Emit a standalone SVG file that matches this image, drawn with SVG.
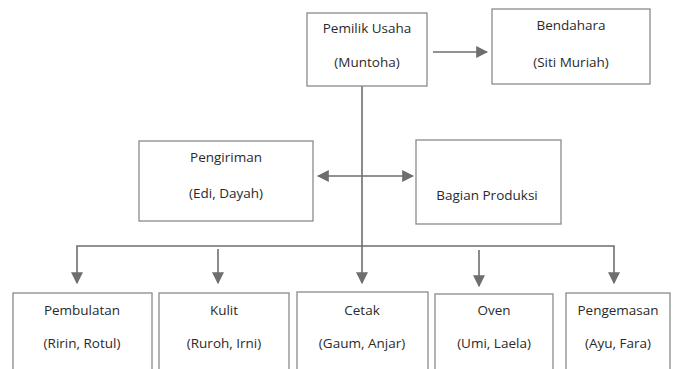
<svg xmlns="http://www.w3.org/2000/svg" width="673" height="369" viewBox="0 0 673 369">
<defs>
<style>
.box{fill:#fff;stroke:#8a8a8a;stroke-width:1.3}
.t{font-family:"Open Sans","Liberation Sans",sans-serif;font-size:13.5px;fill:#2a2a2a;text-anchor:middle;dominant-baseline:central}
.c{stroke:#6e6e6e;stroke-width:1.6;fill:none}
</style>
<marker id="ahb" viewBox="0 0 10 10" refX="9" refY="5" markerWidth="12" markerHeight="12" markerUnits="userSpaceOnUse" orient="auto-start-reverse"><path d="M0,0 L10,5 L0,10 z" fill="#6e6e6e"/></marker>
</defs>
<rect width="673" height="369" fill="#fff"/>
<g id="connectors">
<line class="c" x1="433" y1="52" x2="487" y2="52" marker-end="url(#ahb)"/>
<line class="c" x1="362" y1="86" x2="362" y2="283" marker-end="url(#ahb)"/>
<line class="c" x1="318" y1="176" x2="413" y2="176" marker-start="url(#ahb)" marker-end="url(#ahb)"/>
<polyline class="c" points="77,283 77,246 614,246 614,283" marker-start="url(#ahb)" marker-end="url(#ahb)"/>
<line class="c" x1="218" y1="249" x2="218" y2="283" marker-end="url(#ahb)"/>
<line class="c" x1="479" y1="250" x2="479" y2="286" marker-end="url(#ahb)"/>
</g>
<g id="pemilik"><rect class="box" x="307" y="13" width="120" height="73"/><text class="t" x="367" y="28">Pemilik Usaha</text><text class="t" x="367" y="62">(Muntoha)</text></g>
<g id="bendahara"><rect class="box" x="492" y="9" width="158" height="75"/><text class="t" x="571" y="25">Bendahara</text><text class="t" x="571" y="62">(Siti Muriah)</text></g>
<g id="pengiriman"><rect class="box" x="139" y="141" width="174" height="80"/><text class="t" x="226" y="157">Pengiriman</text><text class="t" x="226" y="193">(Edi, Dayah)</text></g>
<g id="produksi"><rect class="box" x="416" y="140" width="145" height="84"/><text class="t" x="487" y="195">Bagian Produksi</text></g>
<g id="pembulatan"><rect class="box" x="13" y="293" width="139" height="90"/><text class="t" x="82" y="310">Pembulatan</text><text class="t" x="82" y="343">(Ririn, Rotul)</text></g>
<g id="kulit"><rect class="box" x="159" y="293" width="130" height="90"/><text class="t" x="224" y="310">Kulit</text><text class="t" x="224" y="343">(Ruroh, Irni)</text></g>
<g id="cetak"><rect class="box" x="297" y="292" width="131" height="90"/><text class="t" x="362" y="310">Cetak</text><text class="t" x="362" y="343">(Gaum, Anjar)</text></g>
<g id="oven"><rect class="box" x="435" y="294" width="118" height="90"/><text class="t" x="494" y="310">Oven</text><text class="t" x="494" y="343">(Umi, Laela)</text></g>
<g id="pengemasan"><rect class="box" x="566" y="293" width="104" height="90"/><text class="t" x="618" y="310">Pengemasan</text><text class="t" x="618" y="343">(Ayu, Fara)</text></g>
</svg>
